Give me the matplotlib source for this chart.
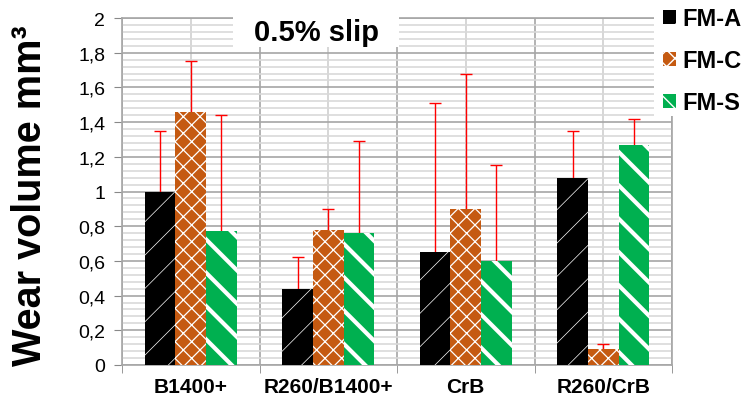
import matplotlib
matplotlib.use('Agg')
import matplotlib.pyplot as plt
from matplotlib.patches import Rectangle, Patch
from matplotlib.ticker import MultipleLocator, FixedLocator
import numpy as np

plt.rcParams['font.family'] = ['Liberation Sans', 'DejaVu Sans']

categories = ['B1400+', 'R260/B1400+', 'CrB', 'R260/CrB']
series_names = ['FM-A', 'FM-C', 'FM-S']
fm_a = [1.00, 0.44, 0.65, 1.08]
fm_c = [1.46, 0.78, 0.90, 0.09]
fm_s = [0.77, 0.76, 0.60, 1.27]
# upper error only
err_a = [0.35, 0.18, 0.86, 0.27]
err_c = [0.29, 0.12, 0.78, 0.03]
err_s = [0.67, 0.53, 0.55, 0.15]
y_ticks = [0, 0.2, 0.4, 0.6, 0.8, 1, 1.2, 1.4, 1.6, 1.8, 2]

colors = ['#000000', '#c55a11', '#00b050']
hatches = ['/', 'xx', '\\']
hatch_lw = [0.5, 0.9, 3.0]

fig = plt.figure(figsize=(7.48, 4.02), dpi=100)
ax = fig.add_axes([122 / 748, 1 - 366 / 402, 550 / 748, 347 / 402])

x = np.arange(len(categories))
w = 1 / 4.5
for i, (vals, errs) in enumerate(zip([fm_a, fm_c, fm_s], [err_a, err_c, err_s])):
    pos = x + (i - 1) * w
    plt.rcParams['hatch.linewidth'] = hatch_lw[i]
    ax.bar(pos, vals, w, color=colors[i], edgecolor='white', linewidth=0,
           hatch=hatches[i], zorder=3)
    eb = ax.errorbar(pos, vals, yerr=[np.zeros(len(vals)), errs], fmt='none',
                     ecolor='#ff0000', elinewidth=1, capsize=4, capthick=1, zorder=2)
    eb[1][0].set_visible(False)

ax.set_xlim(-0.5, len(categories) - 0.5)
ax.set_ylim(0, 2)
ax.set_yticks(y_ticks)
ax.set_yticklabels([f'{t:g}'.replace('.', ',') for t in y_ticks], fontsize=14)
ax.yaxis.set_minor_locator(MultipleLocator(0.04))
ax.set_xticks(x)
ax.set_xticklabels(categories, fontsize=15, fontweight='bold')
ax.xaxis.set_minor_locator(FixedLocator(np.arange(len(categories) + 1) - 0.5))

ax.tick_params(axis='x', which='major', length=0, pad=9)
ax.tick_params(axis='x', which='minor', length=6, color='#888888', direction='out')
ax.tick_params(axis='y', which='major', length=6, color='#888888', pad=6)
ax.tick_params(axis='y', which='minor', length=0)

ax.yaxis.grid(True, which='major', color='#a6a6a6', linewidth=1.2, zorder=0)
ax.yaxis.grid(True, which='minor', color='#d9d9d9', linewidth=1.2, zorder=0)
ax.xaxis.grid(True, which='minor', color='#a6a6a6', linewidth=1.2, zorder=0)
ax.xaxis.grid(True, which='major', color='#d0d0d0', linewidth=1.2, zorder=0)
ax.set_axisbelow(True)
for s in ax.spines.values():
    s.set_color('#a6a6a6')
    s.set_linewidth(1.2)

ax.set_ylabel('Wear volume mm³', fontsize=28.5, fontweight='bold')
ax.yaxis.set_label_coords(-0.132, 0.49)

# title box
fig.patches.append(Rectangle((233 / 748, 1 - 48 / 402), 166 / 748, 48 / 402,
                             transform=fig.transFigure, facecolor='white',
                             edgecolor='none', zorder=1))
fig.text(316 / 748, 1 - 33 / 402, '0.5% slip', fontsize=21, fontweight='bold',
         ha='center', va='center', zorder=2)

# legend box
fig.patches.append(Rectangle((654 / 748, 1 - 117 / 402), 94 / 748, 117 / 402,
                             transform=fig.transFigure, facecolor='white',
                             edgecolor='none', zorder=1))
handles = []
for i in range(3):
    plt.rcParams['hatch.linewidth'] = 1.0
    handles.append(Patch(facecolor=colors[i], edgecolor='white', linewidth=0,
                         hatch=hatches[i]))
leg = fig.legend(handles, series_names, loc='upper left',
                 bbox_to_anchor=(646 / 748, 1.02), frameon=False,
                 prop={'size': 17, 'weight': 'bold'}, handlelength=0.55,
                 handleheight=0.55, handletextpad=0.3, labelspacing=0.8,
                 borderpad=0.2)
leg.set_zorder(3)

fig.savefig('out.png', dpi=100)
